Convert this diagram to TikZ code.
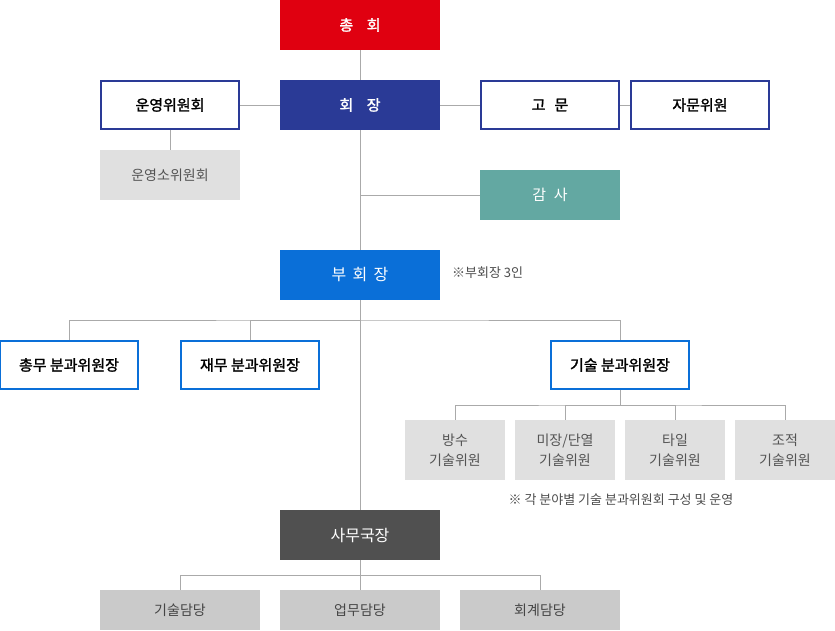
\documentclass[tikz,border=0pt]{standalone}
\usepackage{fontspec}
\setmainfont{Noto Sans CJK KR}
\newfontfamily\medfont{Noto Sans CJK KR}[FakeBold=1.6]
\usetikzlibrary{positioning,calc}
\definecolor{topred}{HTML}{E00010}
\definecolor{navy}{HTML}{2A3A96}
\definecolor{brightblue}{HTML}{0A6FD8}
\definecolor{teal}{HTML}{63A8A2}
\definecolor{darkbox}{HTML}{505050}
\definecolor{lightbox}{HTML}{E0E0E0}
\definecolor{midbox}{HTML}{CACACA}
\definecolor{wire}{HTML}{AAAAAA}
\tikzset{
  box/.style={rectangle,inner sep=0pt,font=\fontsize{15}{18}\selectfont},
  solidbox/.style={box,minimum width=160,minimum height=50,text=white,font=\fontsize{15}{18}\selectfont\medfont},
  plainbox/.style={solidbox,font=\fontsize{16}{18}\selectfont},
  navyline/.style={box,draw=navy,line width=2pt,fill=white,minimum width=138,minimum height=48,font=\fontsize{15}{18}\selectfont\medfont},
  blueline/.style={navyline,draw=brightblue},
}

\begin{document}
\begin{tikzpicture}[
  x=1pt,y=-1pt,
  link/.style={draw=wire,line width=1pt},
  member/.style={box,fill=lightbox,minimum width=100,minimum height=60,text=black!67,align=center,font=\fontsize{14}{20}\selectfont},
  desk/.style={box,fill=midbox,minimum width=160,minimum height=40,text=black!73,font=\fontsize{14}{18}\selectfont},
  note/.style={font=\fontsize{13}{15}\selectfont,text=black!70,inner sep=0pt}
]
\useasboundingbox (0,0) rectangle (835,630);

\node[solidbox,fill=topred] (general) at (360,25) {총\hspace{0.9em}회};
\node[solidbox,fill=navy] (chair) at (360,105) {회\hspace{0.9em}장};

\node[navyline] (opcom) at (170,105) {운영위원회};
\node[box,fill=lightbox,minimum width=140,minimum height=50,text=black!67,font=\fontsize{14}{18}\selectfont] (opsub) at (170,175) {운영소위원회};

\node[navyline] (advisor) at (550,105) {고\hspace{0.6em}문};
\node[navyline] (advboard) at (700,105) {자문위원};

\node[plainbox,fill=teal,minimum width=140,font=\fontsize{15}{18}\selectfont] (audit) at (550,195) {감\hspace{0.5em}사};

\node[plainbox,fill=brightblue] (vice) at (360,275) {부\hspace{0.4em}회\hspace{0.4em}장};
\node[note,anchor=west] (vicenote) at (452,273) {※부회장 3인};

\node[blueline] (general2) at (69,365) {총무 분과위원장};
\node[blueline] (finance) at (250,365) {재무 분과위원장};
\node[blueline] (tech) at (620,365) {기술 분과위원장};

\node[member] (m1) at (455,450) {방수\\기술위원};
\node[member] (m2) at (565,450) {미장/단열\\기술위원};
\node[member] (m3) at (675,450) {타일\\기술위원};
\node[member] (m4) at (785,450) {조적\\기술위원};
\node[note] (technote) at (621,500) {※ 각 분야별 기술 분과위원회 구성 및 운영};

\node[plainbox,fill=darkbox] (office) at (360,535) {사무국장};

\node[desk] (d1) at (180,610) {기술담당};
\node[desk] (d2) at (360,610) {업무담당};
\node[desk] (d3) at (540,610) {회계담당};

\coordinate (vbus) at (360,320);
\coordinate (tbus) at (620,405);
\coordinate (obus) at (360,575);

% main spine
\path[link] (general) -- (chair);
\path[link] (chair) -- (vice);
\path[link] (vice) -- (office);
\path[link] (opcom) -- (chair);
\path[link] (opcom) -- (opsub);
\path[link] (chair) -- (advisor);
\path[link] (advisor) -- (advboard);
\path[link] (audit.west) -- (audit.west -| chair);

% vice chair branches
\path[link] (general2.north) |- (vbus) -| (tech.north);
\path[link] (finance.north) |- (vbus);

% tech members
\path[link] (tech.south) -- (tbus);
\path[link] (m1.north) |- (tbus) -| (m4.north);
\path[link] (m2.north) |- (tbus);
\path[link] (m3.north) |- (tbus);

% office desks
\path[link] (office.south) -- (obus);
\path[link] (d1.north) |- (obus) -| (d3.north);
\path[link] (d2.north) -- (obus);

\end{tikzpicture}
\end{document}
